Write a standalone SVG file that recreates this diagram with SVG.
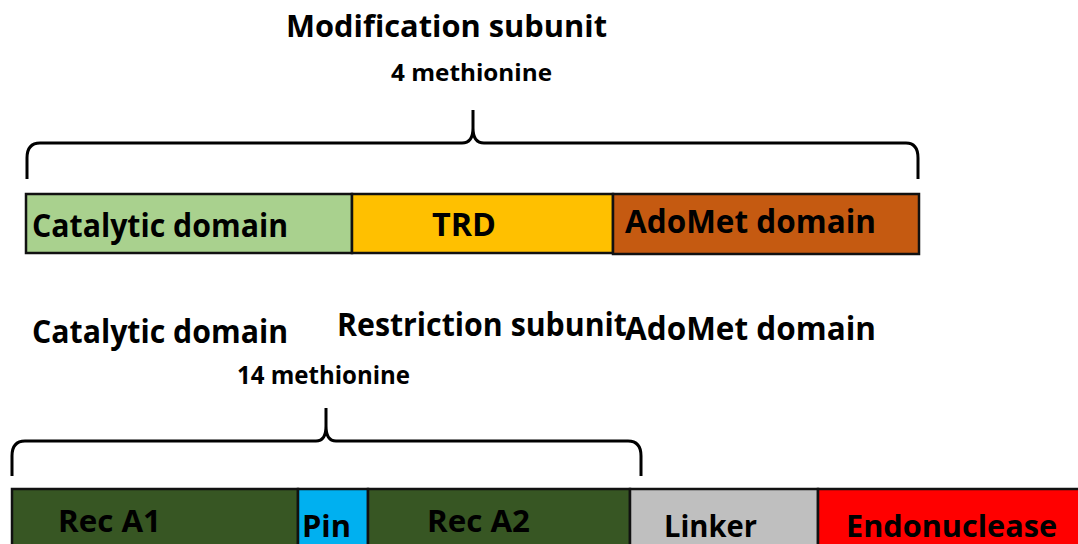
<svg xmlns="http://www.w3.org/2000/svg" width="1078" height="544" viewBox="0 0 1078 544">
<style>
text{font-family:"Open Sans","Noto Sans","Liberation Sans",sans-serif;font-weight:bold;fill:#000}
.box{stroke:#111;stroke-width:2.5}
.brace{fill:none;stroke:#000;stroke-width:3;stroke-linejoin:round}
</style>
<rect width="1078" height="544" fill="#fff"/>
<g id="labels">
<text x="286" y="37" font-size="31" textLength="321" lengthAdjust="spacingAndGlyphs">Modification subunit</text>
<text x="391" y="81" font-size="23" textLength="161" lengthAdjust="spacingAndGlyphs">4 methionine</text>
<text x="32" y="343" font-size="33" textLength="256" lengthAdjust="spacingAndGlyphs">Catalytic domain</text>
<text x="337" y="336" font-size="33" textLength="290" lengthAdjust="spacingAndGlyphs">Restriction subunit</text>
<text x="625" y="340" font-size="33" textLength="251" lengthAdjust="spacingAndGlyphs">AdoMet domain</text>
<text x="237" y="384" font-size="25" textLength="173" lengthAdjust="spacingAndGlyphs">14 methionine</text>
</g>
<g id="connectors">
<path class="brace" d="M27,179 L27,158 Q27,143 40,143 L462,143 Q473,143 473,128 L473,110 M473,128 Q473,143 484,143 L906,143 Q918,143 918,158 L918,179"/>
<path class="brace" d="M12,476 L12,456 Q12,441 25,441 L316,441 Q326,441 326,426 L326,408 M326,426 Q326,441 336,441 L628,441 Q641,441 641,456 L641,476"/>
</g>
<g id="catalytic-top">
<rect class="box" x="26" y="194" width="326" height="59" fill="#A9D18E"/>
<text x="32" y="237" font-size="33" textLength="256" lengthAdjust="spacingAndGlyphs">Catalytic domain</text>
</g>
<g id="trd">
<rect class="box" x="352" y="194" width="261" height="59" fill="#FFC000"/>
<text x="432" y="236" font-size="33" textLength="64" lengthAdjust="spacingAndGlyphs">TRD</text>
</g>
<g id="adomet-top">
<rect class="box" x="613" y="194" width="306" height="60" fill="#C55A11"/>
<text x="625" y="233" font-size="33" textLength="251" lengthAdjust="spacingAndGlyphs">AdoMet domain</text>
</g>
<g id="reca1">
<rect class="box" x="12" y="489" width="286" height="70" fill="#375623"/>
<text x="58" y="532" font-size="31" textLength="103" lengthAdjust="spacingAndGlyphs">Rec A1</text>
</g>
<g id="pin">
<rect class="box" x="298" y="489" width="70" height="70" fill="#00B0F0"/>
<text x="302" y="537" font-size="31" textLength="49" lengthAdjust="spacingAndGlyphs">Pin</text>
</g>
<g id="reca2">
<rect class="box" x="368" y="489" width="262" height="70" fill="#375623"/>
<text x="427" y="532" font-size="31" textLength="103" lengthAdjust="spacingAndGlyphs">Rec A2</text>
</g>
<g id="linker">
<rect class="box" x="630" y="489" width="188" height="70" fill="#BFBFBF"/>
<text x="664" y="537" font-size="31" textLength="93" lengthAdjust="spacingAndGlyphs">Linker</text>
</g>
<g id="endonuclease">
<rect class="box" x="818" y="489" width="270" height="70" fill="#FF0000"/>
<text x="846" y="537" font-size="31" textLength="211" lengthAdjust="spacingAndGlyphs">Endonuclease</text>
</g>
</svg>
